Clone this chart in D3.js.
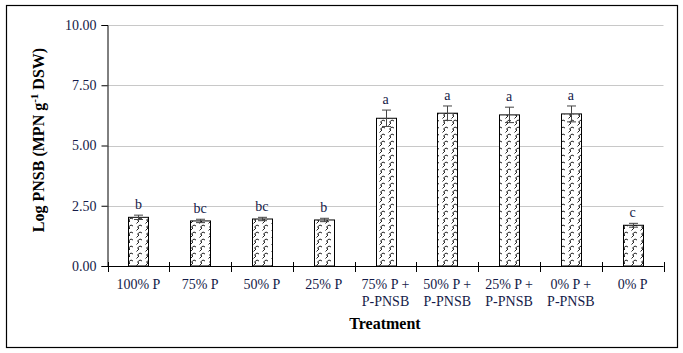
<!DOCTYPE html>
<html>
<head>
<meta charset="utf-8">
<script src="https://cdn.jsdelivr.net/npm/d3@7"></script>
<style>
  body { margin: 0; background: #fff; }
</style>
</head>
<body>
<div id="chart"></div>
<script>
var categories = [["100% P"], ["75% P"], ["50% P"], ["25% P"],
  ["75% P +", "P-PNSB"], ["50% P +", "P-PNSB"], ["25% P +", "P-PNSB"], ["0% P +", "P-PNSB"], ["0% P"]];
var values = [2.02, 1.87, 1.95, 1.91, 6.13, 6.34, 6.27, 6.31, 1.69];
var errors = [0.09, 0.07, 0.07, 0.07, 0.34, 0.30, 0.32, 0.33, 0.08];
var letters = ["b", "bc", "bc", "b", "a", "a", "a", "a", "c"];
var yTicks = [0, 2.5, 5, 7.5, 10];

var W = 683, H = 353;
var textColor = "#141a48";
var serif = "'Liberation Serif', 'Times New Roman', Times, serif";

var svg = d3.select("#chart").append("svg")
  .attr("width", W)
  .attr("height", H)
  .attr("font-family", serif);

// hatch pattern for the bars
var defs = svg.append("defs");
var pat = defs.append("pattern")
  .attr("id", "hatch")
  .attr("patternUnits", "userSpaceOnUse")
  .attr("width", 9)
  .attr("height", 7);
pat.append("rect").attr("width", 9).attr("height", 7).attr("fill", "#fff");
pat.append("path")
  .attr("d", "M1.5,6.5 L4,4 L2.5,3 L5,1 L7,2")
  .attr("fill", "none")
  .attr("stroke", "#222")
  .attr("stroke-width", 1);

// outer frame
svg.append("rect")
  .attr("x", 6.5).attr("y", 5.5)
  .attr("width", 671).attr("height", 342)
  .attr("fill", "none")
  .attr("stroke", "#000")
  .attr("stroke-width", 1.2);

var x = d3.scaleBand()
  .domain(d3.range(categories.length))
  .range([107.5, 663.5]);
var y = d3.scaleLinear()
  .domain([0, 10])
  .range([266, 25]);

// gridlines
svg.append("g")
  .selectAll("line")
  .data(yTicks.slice(1))
  .enter().append("line")
  .attr("x1", 107.5).attr("x2", 663.5)
  .attr("y1", function(d) { return Math.round(y(d)) + 0.5; })
  .attr("y2", function(d) { return Math.round(y(d)) + 0.5; })
  .attr("stroke", "#c8c8c8")
  .attr("stroke-width", 1);

// y axis
var yAxis = svg.append("g")
  .attr("transform", "translate(107.5,0)")
  .call(d3.axisLeft(y).tickValues(yTicks).tickFormat(d3.format(".2f")).tickSize(6).tickPadding(5));
yAxis.attr("font-family", serif);
yAxis.select(".domain").attr("stroke", "#000");
yAxis.selectAll(".tick line").attr("stroke", "#000");
yAxis.selectAll("text")
  .attr("font-size", 14)
  .attr("fill", textColor);

// x axis line and ticks crossing it
svg.append("line")
  .attr("x1", 107.5).attr("x2", 663.5)
  .attr("y1", 266.5).attr("y2", 266.5)
  .attr("stroke", "#000");
svg.append("g")
  .selectAll("line")
  .data(d3.range(categories.length + 1))
  .enter().append("line")
  .attr("x1", function(i) { return Math.round(107.5 + i * x.step()) + 0.5; })
  .attr("x2", function(i) { return Math.round(107.5 + i * x.step()) + 0.5; })
  .attr("y1", 262).attr("y2", 272)
  .attr("stroke", "#000");

// x labels
var labels = svg.append("g")
  .selectAll("text")
  .data(categories)
  .enter().append("text")
  .attr("x", function(d, i) { return x(i) + x.bandwidth() / 2; })
  .attr("y", 289)
  .attr("text-anchor", "middle")
  .attr("font-size", 14)
  .attr("fill", textColor);
labels.selectAll("tspan")
  .data(function(d) { return d; })
  .enter().append("tspan")
  .attr("x", function() { return d3.select(this.parentNode).attr("x"); })
  .attr("dy", function(d, i) { return i === 0 ? 0 : 17; })
  .text(function(d) { return d; });

// bars
var barW = 20;
svg.append("g")
  .selectAll("rect")
  .data(values)
  .enter().append("rect")
  .attr("x", function(d, i) { return Math.round(x(i) + x.bandwidth() / 2 - barW / 2) + 0.5; })
  .attr("y", function(d) { return y(d); })
  .attr("width", barW)
  .attr("height", function(d) { return y(0) - y(d); })
  .attr("fill", "url(#hatch)")
  .attr("stroke", "#000")
  .attr("stroke-width", 1);

// error bars
var err = svg.append("g");
values.forEach(function(v, i) {
  var cx = Math.round(x(i) + x.bandwidth() / 2) + 0.5;
  var top = y(v + errors[i]), bot = y(v - errors[i]);
  err.append("line")
    .attr("x1", cx).attr("x2", cx)
    .attr("y1", top).attr("y2", bot)
    .attr("stroke", "#444");
  err.append("line")
    .attr("x1", cx - 4.5).attr("x2", cx + 4.5)
    .attr("y1", top).attr("y2", top)
    .attr("stroke", "#444");
  err.append("line")
    .attr("x1", cx - 4.5).attr("x2", cx + 4.5)
    .attr("y1", bot).attr("y2", bot)
    .attr("stroke", "#444");
});

// significance letters
svg.append("g")
  .selectAll("text")
  .data(letters)
  .enter().append("text")
  .attr("x", function(d, i) { return x(i) + x.bandwidth() / 2; })
  .attr("y", function(d, i) { return y(values[i] + errors[i]) - 6; })
  .attr("text-anchor", "middle")
  .attr("font-size", 14)
  .attr("fill", textColor)
  .text(function(d) { return d; });

// axis titles
svg.append("text")
  .attr("x", 385)
  .attr("y", 329)
  .attr("text-anchor", "middle")
  .attr("font-size", 16)
  .attr("font-weight", "bold")
  .attr("fill", "#000")
  .text("Treatment");

var yt = svg.append("text")
  .attr("transform", "translate(44,140) rotate(-90)")
  .attr("text-anchor", "middle")
  .attr("font-size", 16)
  .attr("font-weight", "bold")
  .attr("fill", "#000");
yt.append("tspan").text("Log PNSB (MPN g");
yt.append("tspan").attr("dy", -6).attr("font-size", 11).text("-1");
yt.append("tspan").attr("dy", 6).text(" DSW)");
</script>
</body>
</html>
